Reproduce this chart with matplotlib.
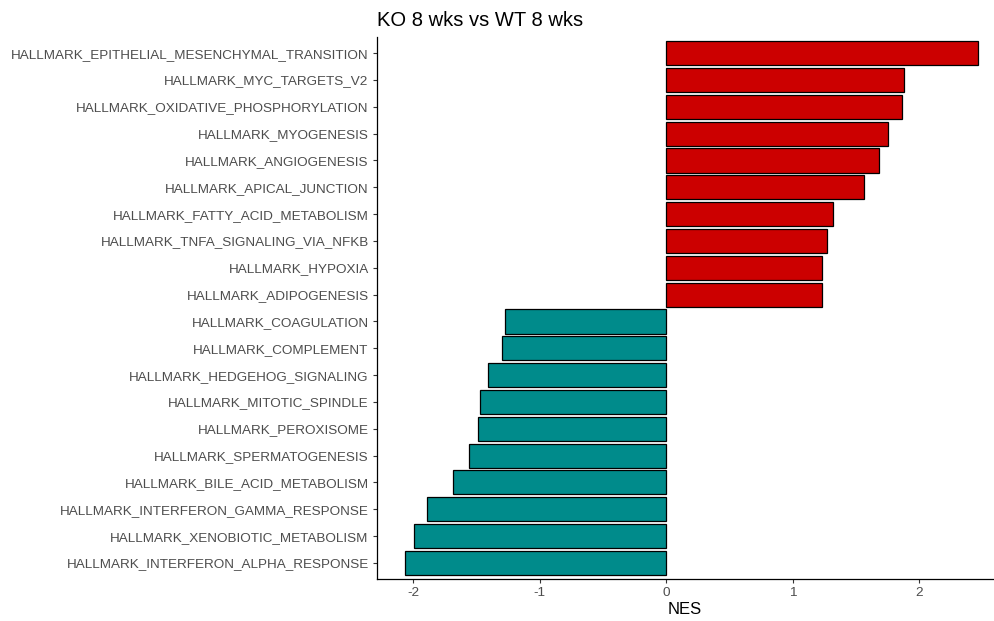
import matplotlib
matplotlib.use('Agg')
import matplotlib.pyplot as plt

pathways = [
    "HALLMARK_EPITHELIAL_MESENCHYMAL_TRANSITION",
    "HALLMARK_MYC_TARGETS_V2",
    "HALLMARK_OXIDATIVE_PHOSPHORYLATION",
    "HALLMARK_MYOGENESIS",
    "HALLMARK_ANGIOGENESIS",
    "HALLMARK_APICAL_JUNCTION",
    "HALLMARK_FATTY_ACID_METABOLISM",
    "HALLMARK_TNFA_SIGNALING_VIA_NFKB",
    "HALLMARK_HYPOXIA",
    "HALLMARK_ADIPOGENESIS",
    "HALLMARK_COAGULATION",
    "HALLMARK_COMPLEMENT",
    "HALLMARK_HEDGEHOG_SIGNALING",
    "HALLMARK_MITOTIC_SPINDLE",
    "HALLMARK_PEROXISOME",
    "HALLMARK_SPERMATOGENESIS",
    "HALLMARK_BILE_ACID_METABOLISM",
    "HALLMARK_INTERFERON_GAMMA_RESPONSE",
    "HALLMARK_XENOBIOTIC_METABOLISM",
    "HALLMARK_INTERFERON_ALPHA_RESPONSE",
]
nes = [2.46, 1.88, 1.86, 1.75, 1.68, 1.56, 1.32, 1.27, 1.23, 1.23,
       -1.27, -1.30, -1.41, -1.47, -1.49, -1.56, -1.68, -1.89, -1.99, -2.06]
x_ticks = [-2, -1, 0, 1, 2]

plt.rcParams['font.family'] = ['Liberation Sans', 'DejaVu Sans']

fig = plt.figure(figsize=(9.94, 6.21), dpi=100)
ax = fig.add_axes([0.3793, 0.0676, 0.6197, 0.8728])

n = len(pathways)
ypos = list(range(n - 1, -1, -1))
colors = ['#CC0000' if v > 0 else '#008B8B' for v in nes]
ax.barh(ypos, nes, height=0.9, color=colors, edgecolor='black', linewidth=0.9)

ax.set_yticks(ypos)
ax.set_yticklabels(pathways, fontsize=9.7, color='#4D4D4D')
ax.set_xticks(x_ticks)
ax.set_xticklabels([str(t) for t in x_ticks], fontsize=9.7, color='#4D4D4D')
ax.set_ylim(-0.6, n - 0.4)
ax.set_xlim(-2.284, 2.582)

for s in ['top', 'right']:
    ax.spines[s].set_visible(False)
for s in ['left', 'bottom']:
    ax.spines[s].set_linewidth(0.9)
ax.tick_params(length=3, width=0.8, color='#333333', pad=3)

ax.set_xlabel('NES', fontsize=12, labelpad=2)
ax.set_title('KO 8 wks vs WT 8 wks', fontsize=14.5, loc='left', pad=8)

fig.savefig('out.png', dpi=100)
